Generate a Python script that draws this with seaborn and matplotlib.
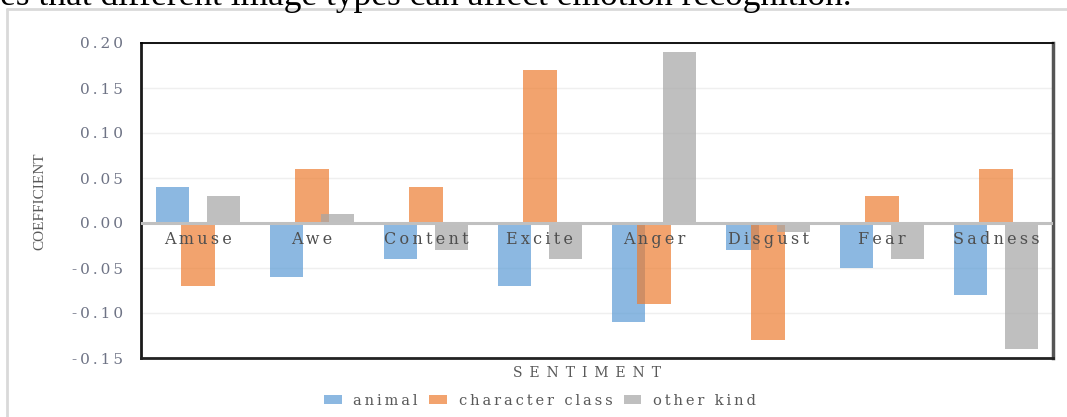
import matplotlib
matplotlib.use("Agg")
import matplotlib.pyplot as plt
import seaborn as sns
import pandas as pd
from matplotlib.patches import Rectangle
from matplotlib.lines import Line2D

# ---- data -------------------------------------------------------------
categories = ["Amuse", "Awe", "Content", "Excite", "Anger", "Disgust", "Fear", "Sadness"]
animal = [0.04, -0.06, -0.04, -0.07, -0.11, -0.03, -0.05, -0.08]
character_class = [-0.07, 0.06, 0.04, 0.17, -0.09, -0.13, 0.03, 0.06]
other_kind = [0.03, 0.01, -0.03, -0.04, 0.19, -0.01, -0.04, -0.14]
series_names = ["animal", "character class", "other kind"]
y_ticks = [-0.15, -0.10, -0.05, 0.00, 0.05, 0.10, 0.15, 0.20]
colors = ["#5B9BD5", "#ED7D31", "#A5A5A5"]

df = pd.DataFrame({
    "sentiment": categories * 3,
    "coefficient": animal + character_class + other_kind,
    "kind": [name for name in series_names for _ in categories],
})

THIN = "\u2009"
EN = "\u2002"


def spaced(text, gap=THIN):
    """Letter-spaced version of a label."""
    return gap.join(text)


sns.set_theme(style="white")
plt.rcParams["font.family"] = ["DejaVu Serif"]

W, H = 1067, 417
fig = plt.figure(figsize=(W / 100, H / 100), dpi=100)
fig.patch.set_facecolor("white")
ax = fig.add_axes([141 / W, 1 - 358 / H, 912 / W, 315 / H])

sns.barplot(
    data=df, x="sentiment", y="coefficient", hue="kind",
    order=categories, hue_order=series_names, palette=colors,
    width=0.675, dodge=True, errorbar=None, saturation=1,
    alpha=0.7, linewidth=0, legend=False, ax=ax, zorder=2,
)

# bars overlap their neighbours a little
bar_w = 0.295
for p in ax.patches:
    cx = p.get_x() + p.get_width() / 2
    p.set_width(bar_w)
    p.set_x(cx - bar_w / 2)

ax.set_xlim(-0.5, len(categories) - 0.5)
ax.set_ylim(-0.15, 0.20)
ax.set_yticks(y_ticks)
ax.set_yticklabels([spaced(f"{v:.2f}") for v in y_ticks],
                   fontsize=11, color="#6e7385")
ax.tick_params(axis="y", length=0, pad=13)
ax.set_xticks([])
ax.set_xlabel("")
ax.set_ylabel("")
ax.yaxis.grid(True, color="#efefef", lw=1)
ax.set_axisbelow(True)
ax.axhline(0, color="#c0c0c0", lw=2.2, zorder=3)

for side, lw, col in [("left", 2.0, "#1a1a1a"), ("top", 1.3, "#000000"),
                      ("right", 2.5, "#555555"), ("bottom", 2.0, "#222222")]:
    ax.spines[side].set_visible(True)
    ax.spines[side].set_linewidth(lw)
    ax.spines[side].set_color(col)

# category names sit just under the zero line
for i, cat in enumerate(categories):
    ax.annotate(spaced(cat), (i, 0), xytext=(0, -12), textcoords="offset points",
                ha="center", va="center", fontsize=11.5, color="#4f4f4f", zorder=4)

fig.text(40 / W, 1 - 201 / H, "COEFFICIENT", rotation=90, ha="center", va="center",
         fontsize=11, color="#595959", family="Liberation Serif")
fig.text(587 / W, 1 - 373 / H, spaced("SENTIMENT", EN), ha="center", va="center",
         fontsize=10, color="#595959")

handles = [Rectangle((0, 0), 1, 1, facecolor=c, alpha=0.7, linewidth=0) for c in colors]
fig.legend(handles, [spaced(n) for n in series_names], loc="center",
           bbox_to_anchor=(540 / W, 1 - 401 / H), ncol=3, frameon=False,
           fontsize=10.5, labelcolor="#595959", handlelength=1.2, handleheight=0.55,
           handletextpad=0.8, columnspacing=0.8)

# page frame and the sentence above the chart
fig.add_artist(Line2D([7 / W, 7 / W], [0, 1 - 9 / H], transform=fig.transFigure,
                      color="#d9d9d9", lw=2))
fig.add_artist(Line2D([7 / W, 1], [1 - 9 / H, 1 - 9 / H], transform=fig.transFigure,
                      color="#d9d9d9", lw=2))
fig.text(0, 1 - 5 / H, "es that different image types can affect emotion recognition.",
         family="Liberation Serif", fontsize=25.5, ha="left", va="baseline", color="black")

fig.savefig("out.png", dpi=100)
